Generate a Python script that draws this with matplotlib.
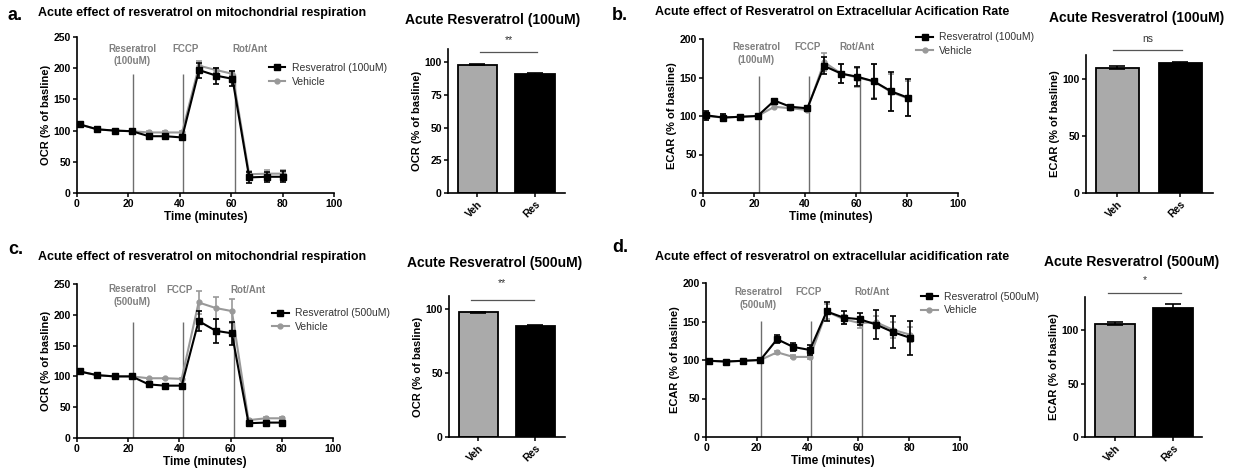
import numpy as np
import matplotlib.pyplot as plt
from matplotlib.lines import Line2D

plt.rcParams['font.family'] = ['Liberation Sans', 'DejaVu Sans']
plt.rcParams['font.weight'] = 'bold'

W, H = 1236, 472

# time points of the Seahorse measurements (minutes)
t = [1.0, 7.9, 14.7, 21.4, 28.0, 34.3, 40.9, 47.5, 54.2, 60.5, 67.0, 73.8, 80.2]
inject_t = [21.8, 41.4, 61.5]

# a. OCR, 100uM
a_res = [110, 102, 100, 99, 91, 91, 89, 197, 188, 183, 25, 26, 26]
a_res_err = [3, 2, 1, 1, 2, 3, 3, 12, 13, 12, 9, 8, 9]
a_veh = [110, 102, 100, 99, 97, 97, 97, 204, 197, 191, 30, 31, 31]
a_veh_err = [2, 1, 1, 1, 2, 2, 2, 7, 4, 4, 6, 6, 6]

# b. ECAR, 100uM
b_res = [101, 98, 99, 100, 120, 112, 110, 165, 155, 151, 145, 132, 124]
b_res_err = [6, 4, 2, 1, 2, 2, 2, 11, 12, 12, 23, 25, 24]
b_veh = [100, 98, 99, 100, 112, 110, 108, 170, 155, 150, 145, 131, 123]
b_veh_err = [5, 4, 2, 1, 2, 2, 2, 12, 12, 12, 22, 24, 23]

# c. OCR, 500uM
c_res = [108, 102, 100, 100, 87, 85, 85, 190, 174, 170, 24, 25, 25]
c_res_err = [2, 1, 1, 1, 2, 2, 2, 16, 19, 19, 2, 2, 2]
c_veh = [108, 102, 100, 100, 97, 97, 96, 220, 211, 206, 29, 32, 32]
c_veh_err = [2, 1, 1, 1, 1, 1, 1, 18, 18, 20, 2, 2, 2]

# d. ECAR, 500uM
d_res = [99, 98, 99, 100, 127, 117, 113, 163, 155, 153, 146, 136, 129]
d_res_err = [2, 1, 1, 1, 5, 5, 6, 12, 8, 8, 19, 21, 22]
d_veh = [99, 98, 99, 100, 110, 104, 104, 163, 153, 148, 149, 139, 133]
d_veh_err = [2, 1, 1, 1, 2, 2, 3, 10, 6, 6, 8, 10, 10]

# bar summaries (Veh, Res)
bar_labels = ['Veh', 'Res']
a_bar = [98, 91]
a_bar_err = [0.4, 0.5]
b_bar = [110, 114]
b_bar_err = [1.5, 0.5]
c_bar = [97.4, 86.8]
c_bar_err = [0.3, 0.3]
d_bar = [106, 121]
d_bar_err = [1.5, 3]

fig = plt.figure(figsize=(W / 100, H / 100), dpi=100)
fig.patch.set_facecolor('white')


def px_axes(left, top, right, bottom):
    return fig.add_axes([left / W, 1 - bottom / H, (right - left) / W, (bottom - top) / H])


def style(ax):
    for s in ['top', 'right']:
        ax.spines[s].set_visible(False)
    for s in ['left', 'bottom']:
        ax.spines[s].set_linewidth(1.2)
    ax.tick_params(direction='out', length=3, width=1.1, labelsize=7.5, pad=1.5)
    for lab in ax.get_xticklabels() + ax.get_yticklabels():
        lab.set_fontweight('bold')


def line_panel(box, res, res_err, veh, veh_err, ymax, ylabel, conc, inj_top,
               lbl_x, lbl_y, leg_xy):
    ax = px_axes(*box)
    ax.errorbar(t, veh, yerr=veh_err, color='#999999', marker='o', ms=3.5,
                lw=1.5, capsize=2.5, elinewidth=1.2, capthick=1.2, zorder=3)
    ax.errorbar(t, res, yerr=res_err, color='black', marker='s', ms=4,
                lw=1.5, capsize=2.5, elinewidth=1.2, capthick=1.2, zorder=4)
    ax.vlines(inject_t, 0, inj_top, color='#6e6e6e', lw=1, zorder=2)
    ax.set_xlim(0, 100)
    ax.set_ylim(0, ymax)
    ax.set_xticks([0, 20, 40, 60, 80, 100])
    ax.set_yticks(np.arange(0, ymax + 1, 50))
    ax.set_xlabel('Time (minutes)', fontsize=8.5, fontweight='bold', labelpad=1)
    ax.set_ylabel(ylabel, fontsize=8, fontweight='bold', labelpad=2)
    style(ax)
    gray = '#808080'
    ax.text(lbl_x[0], lbl_y[0], 'Reseratrol\n(%s)' % conc, transform=ax.get_xaxis_transform(),
            ha='center', va='center', fontsize=7, color=gray, linespacing=1.35)
    ax.text(lbl_x[1], lbl_y[1], 'FCCP', transform=ax.get_xaxis_transform(),
            ha='center', va='center', fontsize=7, color=gray)
    ax.text(lbl_x[2], lbl_y[2], 'Rot/Ant', transform=ax.get_xaxis_transform(),
            ha='center', va='center', fontsize=7, color=gray)
    handles = [Line2D([], [], color='black', marker='s', ms=4.5, lw=1.5),
               Line2D([], [], color='#999999', marker='o', ms=3.5, lw=1.5)]
    labels = ['Resveratrol (%s)' % conc, 'Vehicle']
    leg = ax.legend(handles, labels, loc='upper left', bbox_to_anchor=leg_xy, frameon=False,
                    prop={'size': 7.5, 'weight': 'normal'}, handlelength=1.6,
                    handletextpad=0.6, borderaxespad=0, labelspacing=0.35)
    for txt in leg.get_texts():
        txt.set_color('#333333')
    return ax


def bar_panel(box, vals, errs, ymax, yticks, ylabel, xlim, sig, sig_x, sig_y, sig_txt_y):
    ax = px_axes(*box)
    x = np.arange(len(vals))
    ax.bar(x, vals, width=0.68, color=['#aaaaaa', 'black'], edgecolor='black', lw=1.3,
           yerr=errs, capsize=6, error_kw={'elinewidth': 1.2, 'capthick': 1.2})
    ax.set_xlim(*xlim)
    ax.set_ylim(0, ymax)
    ax.set_yticks(yticks)
    ax.set_xticks(x)
    ax.set_xticklabels(bar_labels, rotation=45, ha='right', rotation_mode='anchor')
    ax.set_ylabel(ylabel, fontsize=8, fontweight='bold', labelpad=2)
    style(ax)
    ax.plot(sig_x, [sig_y, sig_y], color='#555555', lw=0.9, clip_on=False)
    ax.text(np.mean(sig_x), sig_txt_y, sig, ha='center', va='center', fontsize=7.5,
            fontweight='normal', color='#333333', clip_on=False)
    return ax


# a.
line_panel((77, 37, 334, 193), a_res, a_res_err, a_veh, a_veh_err, 250,
           'OCR (% of basline)', '100uM', 190,
           [21.4, 42.4, 67.3], [0.885, 0.925, 0.925], (0.73, 0.86))
bar_panel((448, 49, 565, 193), a_bar, a_bar_err, 110, [0, 25, 50, 75, 100],
          'OCR (% of basline)', (-0.51, 1.52), '**', [0.05, 1.03], 108, 117)

# b.
line_panel((703, 39, 958, 193), b_res, b_res_err, b_veh, b_veh_err, 200,
           'ECAR (% of basline)', '100uM', 152,
           [21.0, 41.2, 60.4], [0.905, 0.95, 0.95], (0.82, 1.07))
bar_panel((1086, 55, 1213, 193), b_bar, b_bar_err, 121, [0, 50, 100],
          'ECAR (% of basline)', (-0.5, 1.52), 'ns', [-0.07, 1.02], 125, 135)

# c.
line_panel((77, 284, 333, 438), c_res, c_res_err, c_veh, c_veh_err, 250,
           'OCR (% of basline)', '500uM', 189,
           [21.5, 40.2, 66.8], [0.925, 0.96, 0.96], (0.745, 0.87))
bar_panel((449, 296, 565, 437), c_bar, c_bar_err, 110, [0, 50, 100],
          'OCR (% of basline)', (-0.51, 1.52), '**', [-0.13, 0.97], 106.5, 120)

# d.
line_panel((706, 283, 960, 437), d_res, d_res_err, d_veh, d_veh_err, 200,
           'ECAR (% of basline)', '500uM', 151,
           [20.5, 40.5, 65.4], [0.90, 0.94, 0.94], (0.83, 0.97))
bar_panel((1085, 297, 1202, 437), d_bar, d_bar_err, 131, [0, 50, 100],
          'ECAR (% of basline)', (-0.52, 1.5), '*', [-0.12, 1.14], 135, 147)


# panel letters and titles
def ftext(x, y, s, **kw):
    fig.text(x / W, 1 - y / H, s, **kw)


ftext(8, 16, 'a.', fontsize=13, fontweight='bold', va='center')
ftext(38, 13, 'Acute effect of resveratrol on mitochondrial respiration', fontsize=9, va='center')
ftext(612, 16, 'b.', fontsize=13, fontweight='bold', va='center')
ftext(655, 12, 'Acute effect of Resveratrol on Extracellular Acification Rate', fontsize=9, va='center')
ftext(8, 249, 'c.', fontsize=13, fontweight='bold', va='center')
ftext(38, 257, 'Acute effect of resveratrol on mitochondrial respiration', fontsize=9, va='center')
ftext(612, 247, 'd.', fontsize=13, fontweight='bold', va='center')
ftext(655, 257, 'Acute effect of resveratrol on extracellular acidification rate', fontsize=9, va='center')

ftext(493, 20, 'Acute Resveratrol (100uM)', fontsize=10, ha='center', va='center')
ftext(1137, 18, 'Acute Resveratrol (100uM)', fontsize=10, ha='center', va='center')
ftext(495, 263, 'Acute Resveratrol (500uM)', fontsize=10, ha='center', va='center')
ftext(1132, 262, 'Acute Resveratrol (500uM)', fontsize=10, ha='center', va='center')

fig.savefig('out.png', dpi=100, facecolor='white')
